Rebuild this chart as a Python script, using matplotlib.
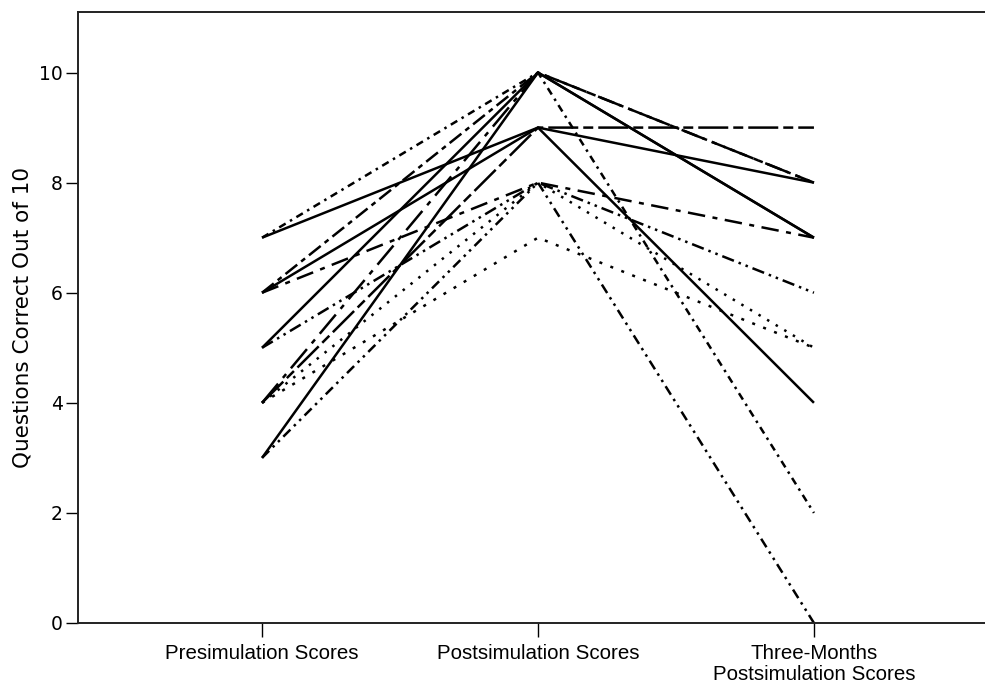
import matplotlib
matplotlib.use('Agg')
import matplotlib.pyplot as plt

# time points
categories = ['Presimulation Scores', 'Postsimulation Scores',
              'Three-Months\nPostsimulation Scores']

# one row per participant: pre, post, three-month
pre = [7, 7, 6, 6, 6, 5, 5, 4, 4, 4, 4, 3, 3]
post = [10, 9, 10, 9, 8, 10, 8, 10, 9, 8, 7, 10, 8]
three_month = [2, 8, 8, 4, 7, 7, 6, 8, 9, 5, 5, 7, 0]

styles = [
    (0, (3, 2, 1, 2)),
    '-',
    (0, (6, 2, 2, 2)),
    '-',
    (0, (7, 3, 2, 3)),
    '-',
    (0, (5, 2, 1, 2, 1, 2)),
    (0, (10, 3, 2, 3)),
    (0, (12, 2, 4, 2)),
    (0, (1, 3)),
    (0, (1.2, 3.5)),
    '-',
    (0, (4, 2, 1, 2, 1, 2)),
]

fig = plt.figure(figsize=(9.85, 6.83), dpi=100)
ax = fig.add_axes([78 / 985, 60 / 683, 920 / 985, 611 / 683])

x = list(range(len(categories)))
for i in range(len(pre)):
    ax.plot(x, [pre[i], post[i], three_month[i]], color='black',
            linestyle=styles[i], linewidth=1.8, solid_capstyle='butt')

ax.set_xlim(-0.667, 2.667)
ax.set_ylim(0, 11.1)
ax.set_xticks(x)
ax.set_xticklabels(categories, fontsize=14.8, family='Liberation Sans',
                   linespacing=1.15)
ax.set_yticks([0, 2, 4, 6, 8, 10])
ax.set_yticklabels(['0', '2', '4', '6', '8', '10'], family='DejaVu Sans',
                   fontsize=13.5)
ax.tick_params(axis='y', length=9, width=1, pad=2)
ax.tick_params(axis='x', length=10, width=1, pad=5)
ax.set_ylabel('Questions Correct Out of 10', fontsize=15.5, family='DejaVu Sans',
              labelpad=5)
for sp in ax.spines.values():
    sp.set_linewidth(1.4)
    sp.set_color('#222222')

fig.savefig('out.png', dpi=100)
